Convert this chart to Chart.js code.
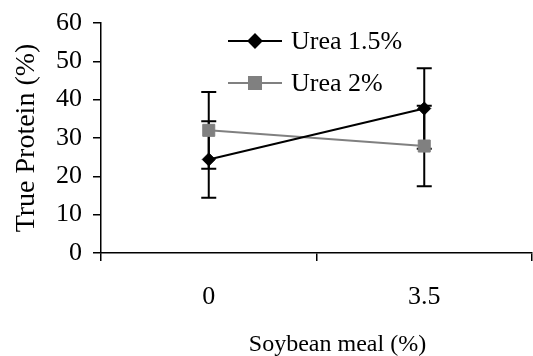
<!DOCTYPE html>
<html>
<head>
<meta charset="utf-8">
<script src="https://cdn.jsdelivr.net/npm/chart.js@4.4.0/dist/chart.umd.min.js"></script>
<style>
  html, body { margin: 0; padding: 0; background: #fff; overflow: hidden; }
  canvas { display: block; }
</style>
</head>
<body>
<canvas id="proteinChart" width="533" height="356"></canvas>
<script>
// categories and measured values
const soybeanMeal = ["0", "3.5"];
const urea15 = [24.4, 37.7];
const urea15Err = [10, 10.5];
const urea2 = [32, 27.9];
const urea2Err = [10, 10.5];
const seriesNames = ["Urea 1.5%", "Urea 2%"];

const serif = "'Liberation Serif', 'Times New Roman', serif";
const errorsBySeries = [urea15Err, urea2Err];

// vertical error bars with caps, drawn under the lines and markers
const errorBars = {
  id: "errorBars",
  beforeDatasetsDraw(chart) {
    const ctx = chart.ctx;
    const x = chart.scales.x;
    const y = chart.scales.y;
    ctx.save();
    ctx.strokeStyle = "#000";
    ctx.lineWidth = 2;
    chart.data.datasets.forEach((ds, i) => {
      ds.data.forEach((v, j) => {
        const err = errorsBySeries[i][j];
        const px = x.getPixelForValue(j);
        const top = y.getPixelForValue(v + err);
        const bot = y.getPixelForValue(v - err);
        ctx.beginPath();
        ctx.moveTo(px, top);
        ctx.lineTo(px, bot);
        ctx.moveTo(px - 7.5, top);
        ctx.lineTo(px + 7.5, top);
        ctx.moveTo(px - 7.5, bot);
        ctx.lineTo(px + 7.5, bot);
        ctx.stroke();
      });
    });
    ctx.restore();
  }
};

// legend sitting inside the plot, plus the x axis title
const extras = {
  id: "extras",
  afterDraw(chart) {
    const ctx = chart.ctx;
    const area = chart.chartArea;
    ctx.save();
    chart.data.datasets.forEach((ds, i) => {
      const ly = area.top + 18 + i * 42;
      const lx = area.left + 127;
      ctx.strokeStyle = ds.borderColor;
      ctx.lineWidth = ds.borderWidth;
      ctx.beginPath();
      ctx.moveTo(lx, ly);
      ctx.lineTo(lx + 54, ly);
      ctx.stroke();
      ctx.fillStyle = ds.pointBackgroundColor;
      ctx.strokeStyle = ds.pointBackgroundColor;
      Chart.helpers.drawPoint(ctx, {
        pointStyle: ds.pointStyle,
        radius: ds.pointRadius,
        rotation: 0,
        borderWidth: 1
      }, lx + 27, ly);
      ctx.fillStyle = "#000";
      ctx.font = "26px " + serif;
      ctx.textAlign = "left";
      ctx.textBaseline = "middle";
      ctx.fillText(ds.label, lx + 63, ly + 1);
    });
    ctx.font = "24px " + serif;
    ctx.fillStyle = "#000";
    ctx.textAlign = "center";
    ctx.textBaseline = "middle";
    ctx.fillText("Soybean meal (%)", (area.left + area.right) / 2 + 21, 345);
    ctx.restore();
  }
};

new Chart(document.getElementById("proteinChart").getContext("2d"), {
  type: "line",
  data: {
    labels: soybeanMeal,
    datasets: [
      {
        label: seriesNames[0],
        data: urea15,
        borderColor: "#000",
        borderWidth: 2,
        pointStyle: "rectRot",
        pointRadius: 6.5,
        pointBackgroundColor: "#000",
        pointBorderColor: "#000",
        pointBorderWidth: 1,
        fill: false,
        tension: 0
      },
      {
        label: seriesNames[1],
        data: urea2,
        borderColor: "#808080",
        borderWidth: 2,
        pointStyle: "rect",
        pointRadius: 8.5,
        pointBackgroundColor: "#808080",
        pointBorderColor: "#808080",
        pointBorderWidth: 1,
        fill: false,
        tension: 0
      }
    ]
  },
  options: {
    responsive: false,
    animation: false,
    layout: { autoPadding: false, padding: { top: 23, right: 1, left: 0, bottom: 0 } },
    plugins: {
      legend: { display: false },
      tooltip: { enabled: false }
    },
    scales: {
      x: {
        offset: true,
        grid: { offset: true, drawOnChartArea: false, tickLength: 8, color: "#000", lineWidth: 1.5 },
        border: { color: "#000", width: 1.5 },
        ticks: { color: "#000", font: { family: serif, size: 26 }, padding: 21 },
        afterFit(scale) {
          scale.height = 103;
          scale.paddingLeft = 0;
          scale.paddingRight = 0;
        }
      },
      y: {
        min: 0,
        max: 60,
        grid: { drawOnChartArea: false, tickLength: 8, color: "#000", lineWidth: 1.5 },
        border: { color: "#000", width: 1.5 },
        ticks: { stepSize: 10, color: "#000", font: { family: serif, size: 26 }, padding: 11 },
        title: {
          display: true,
          text: "True Protein (%)",
          color: "#000",
          font: { family: serif, size: 28 },
          padding: { top: 10, bottom: 0 }
        },
        afterFit(scale) {
          scale.width = 101;
          scale.paddingTop = 0;
          scale.paddingBottom = 0;
        }
      }
    }
  },
  plugins: [errorBars, extras]
});
</script>
</body>
</html>
